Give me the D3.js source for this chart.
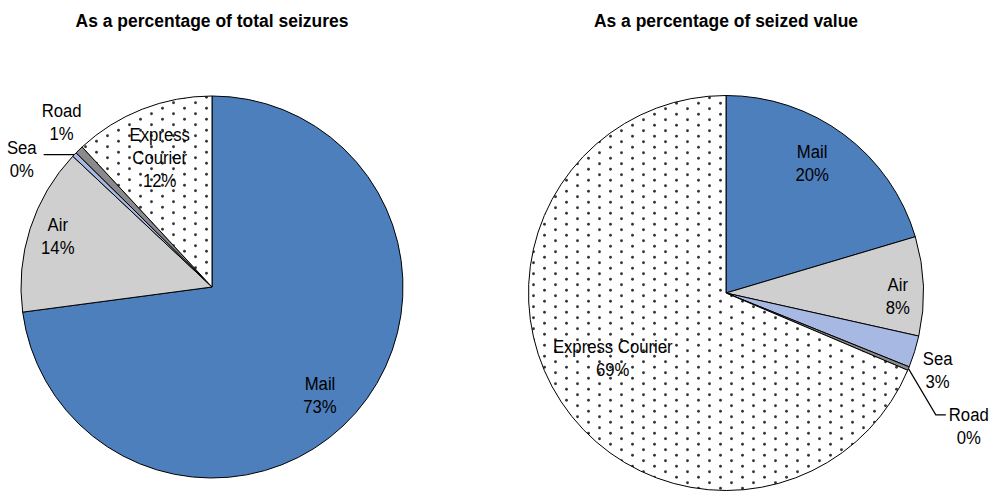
<!DOCTYPE html>
<html>
<head>
<meta charset="utf-8">
<script src="https://cdn.jsdelivr.net/npm/d3@7"></script>
<style>
  html, body { margin: 0; padding: 0; background: #fff; }
  svg { display: block; }
  text { font-family: "Liberation Sans", Arial, sans-serif; fill: #000; }
</style>
</head>
<body>
<svg id="chart" width="991" height="493"></svg>
<script>
// ---- data ----
const categories = ["Mail", "Air", "Sea", "Road", "Express Courier"];
const seizuresPct = [72.9, 14.1, 0.4, 0.7, 11.9];   // % of total seizures
const valuePct    = [20.4, 8.1, 2.6, 0.3, 68.6];    // % of seized value
const chartTitles = ["As a percentage of total seizures", "As a percentage of seized value"];
// label line breaks per chart
const labelNamesLeft  = [["Mail"], ["Air"], ["Sea"], ["Road"], ["Express", "Courier"]];
const labelNamesRight = [["Mail"], ["Air"], ["Sea"], ["Road"], ["Express Courier"]];

// ---- styles / layout ----
const colors = ["#4d7fbd", "#cfcfcf", "#a7b9e3", "#8a8a8a", "url(#dots)"];
const FONT = 19, SX = 0.88, LINE_H = 23;
const TITLE_FONT = 19, TITLE_SX = 0.92;

// label placement: angle offset from slice middle (deg) and radius factor
const layoutLeft = [
  {da: 3.8, rf: 0.80}, {da: 0.4, rf: 0.85},
  {da: -10, rf: 1.20, leader: {side: "left", gap: 7, len: 27, dy: 7}},
  {da: 1.8, rf: 1.17}, {da: -0.6, rf: 0.73}
];
const layoutRight = [
  {da: -3.2, rf: 0.79}, {da: 3, rf: 0.87}, {da: 2.7, rf: 1.14},
  {da: 6.1, rf: 1.40, leader: {side: "right", gap: 3, len: 10, dy: 1}},
  {da: 3.8, rf: 0.66}
];

const svg = d3.select("#chart");
const defs = svg.append("defs");
const pat = defs.append("pattern").attr("id", "dots")
  .attr("patternUnits", "userSpaceOnUse").attr("width", 22).attr("height", 11);
pat.append("rect").attr("width", 22).attr("height", 11).attr("fill", "#fff");
pat.append("circle").attr("cx", 5.5).attr("cy", 2.75).attr("r", 1.4).attr("fill", "#333");
pat.append("circle").attr("cx", 16.5).attr("cy", 8.25).attr("r", 1.4).attr("fill", "#333");

function drawPie(cx, cy, r, values, names, layout, title, titleY) {
  const g = svg.append("g").attr("transform", `translate(${cx},${cy})`);
  const pie = d3.pie().sort(null).value(d => d)(values);
  const arc = d3.arc().innerRadius(0).outerRadius(r);

  g.selectAll("path.slice").data(pie).join("path")
    .attr("class", "slice")
    .attr("d", arc)
    .attr("fill", (d, i) => colors[i])
    .attr("stroke", "#000")
    .attr("stroke-width", 1)
    .attr("stroke-linejoin", "round");

  svg.append("text")
    .attr("transform", `translate(${cx},${titleY}) scale(${TITLE_SX},1)`)
    .attr("text-anchor", "middle")
    .attr("font-size", TITLE_FONT)
    .attr("font-weight", "bold")
    .text(title);

  pie.forEach((d, i) => {
    const L = layout[i];
    const mid = (d.startAngle + d.endAngle) / 2;
    const a = mid + L.da * Math.PI / 180;
    const lx = Math.sin(a) * r * L.rf, ly = -Math.cos(a) * r * L.rf;
    const lines = names[i].concat([Math.round(values[i]) + "%"]);
    const n = lines.length;
    const tg = g.append("g");
    let maxW = 0;
    lines.forEach((s, k) => {
      const y = ly + (k - (n - 1) / 2) * LINE_H;
      const t = tg.append("text")
        .attr("transform", `translate(${lx},${y}) scale(${SX},1)`)
        .attr("text-anchor", "middle")
        .attr("dy", "0.35em")
        .attr("font-size", FONT)
        .text(s);
      maxW = Math.max(maxW, t.node().getComputedTextLength() * SX);
    });
    if (L.leader) {
      const ex = Math.sin(mid) * r, ey = -Math.cos(mid) * r;
      const y0 = ly - (n - 1) / 2 * LINE_H + L.leader.dy;
      let pts;
      if (L.leader.side === "left") {
        const x1 = lx + maxW / 2 + L.leader.gap;
        pts = [[x1, y0], [x1 + L.leader.len, y0], [ex, ey]];
      } else {
        const x1 = lx - maxW / 2 - L.leader.gap;
        pts = [[x1, y0], [x1 - L.leader.len, y0], [ex, ey]];
      }
      g.append("path").attr("d", d3.line()(pts))
        .attr("fill", "none").attr("stroke", "#000").attr("stroke-width", 1.2);
    }
  });
}

drawPie(212, 287, 191, seizuresPct, labelNamesLeft, layoutLeft, chartTitles[0], 27);
drawPie(726, 293, 197.5, valuePct, labelNamesRight, layoutRight, chartTitles[1], 27);
</script>
</body>
</html>
